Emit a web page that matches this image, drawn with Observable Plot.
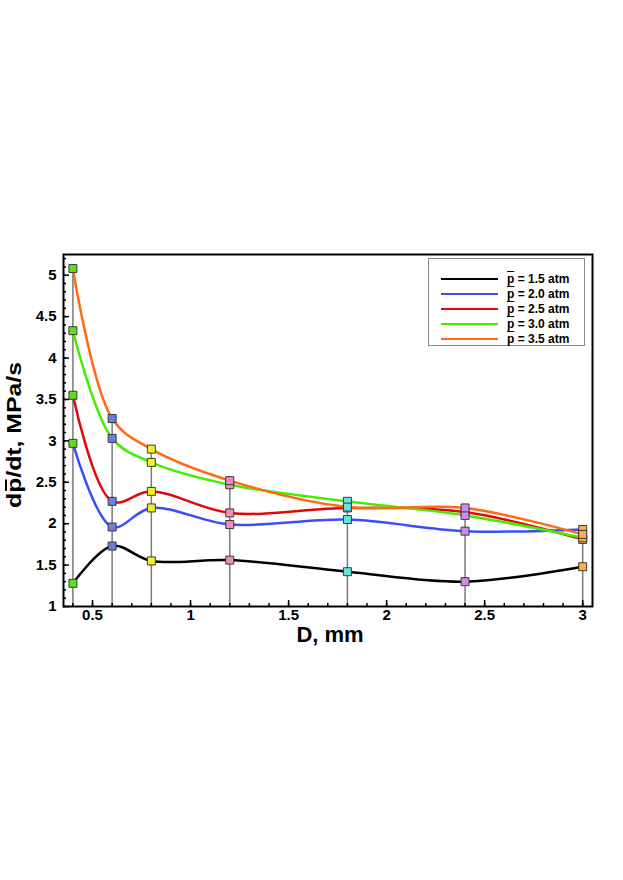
<!DOCTYPE html>
<html><head><meta charset="utf-8">
<script src="https://cdn.jsdelivr.net/npm/d3@7"></script>
<script src="https://cdn.jsdelivr.net/npm/@observablehq/plot@0.6"></script>
<style>
body{margin:0;background:#fff;}
#wrap{position:relative;width:623px;height:880px;font-family:"Liberation Sans",Arial,sans-serif;}
#legend{position:absolute;left:428px;top:258px;width:157px;height:88px;border:1px solid #8a8a8a;background:#fff;box-sizing:border-box;}
.row{position:absolute;left:0;height:14px;display:flex;align-items:center;font-weight:bold;font-size:12px;color:#000;white-space:nowrap;}
.sw{width:57px;height:0;border-top:2.5px solid;margin-left:12px;margin-right:9px;}
.ov{text-decoration:overline;}
</style></head><body><div id="wrap"></div>
<script>
// Diameter, mm
const D = [0.4, 0.6, 0.8, 1.2, 1.8, 2.4, 3.0];
// dp/dt, MPa/s for each mean pressure
const p15 = [1.28, 1.73, 1.55, 1.56, 1.42, 1.30, 1.48];
const p20 = [2.97, 1.96, 2.19, 1.99, 2.05, 1.91, 1.93];
const p25 = [3.55, 2.27, 2.39, 2.13, 2.19, 2.14, 1.81];
const p30 = [4.33, 3.03, 2.74, 2.47, 2.27, 2.10, 1.83];
const p35 = [5.08, 3.27, 2.90, 2.52, 2.20, 2.19, 1.87];
const seriesLabels = ["1.5", "2.0", "2.5", "3.0", "3.5"];
const seriesColors = ["#000000", "#3a4cff", "#e00808", "#44ee00", "#ff6a14"];
const markerFills = ["#5ee022", "#6a7ede", "#f2f222", "#f28cbe", "#66e2dc", "#cc8cee", "#ffad48"];
const xMajor = [0.5, 1, 1.5, 2, 2.5, 3];
const xMinor = d3.range(4, 31).map(i => i / 10);
const yMajor = [1, 1.5, 2, 2.5, 3, 3.5, 4, 4.5, 5];
const yMinor = d3.range(10, 53).map(i => i / 10);

const series = [p15, p20, p25, p30, p35];
const maxAt = D.map((d, i) => d3.max(series, s => s[i]));

const marks = [];
marks.push(Plot.ruleX(D, {x: d => d, y1: 1, y2: (d, i) => maxAt[i], stroke: "#7a7a7a", strokeWidth: 1.5}));
series.forEach((s, k) => {
  marks.push(Plot.line(D, {x: d => d, y: (d, i) => s[i], stroke: seriesColors[k], strokeWidth: 2.5, curve: "catmull-rom"}));
});
D.forEach((d, j) => {
  marks.push(Plot.dot(series, {x: () => d, y: s => s[j], symbol: "square", r: 4.5, fill: markerFills[j], stroke: "#3a3a3a", strokeWidth: 1}));
});
marks.push(Plot.axisX(xMinor, {tickSize: -3, tickFormat: () => "", strokeWidth: 1.5, label: null}));
marks.push(Plot.axisX(xMajor, {tickSize: -6, tickPadding: 9, strokeWidth: 1.5, tickFormat: d => String(d), fontSize: 15, fontWeight: "bold", label: null}));
marks.push(Plot.axisY(yMinor, {tickSize: -3, tickFormat: () => "", strokeWidth: 1.5, label: null}));
marks.push(Plot.axisY(yMajor, {tickSize: -6, tickPadding: 13, strokeWidth: 1.5, tickFormat: d => String(d), fontSize: 15, fontWeight: "bold", label: null}));
marks.push(Plot.frame({stroke: "#000", strokeWidth: 2}));

const chart = Plot.plot({
  width: 623, height: 880,
  marginTop: 254, marginBottom: 274, marginLeft: 63, marginRight: 31,
  x: {domain: [0.352, 3.05]},
  y: {domain: [1, 5.25]},
  style: {fontFamily: "'Liberation Sans', Arial, sans-serif", background: "#fff", color: "#000"},
  marks
});

const wrap = document.getElementById("wrap");
wrap.appendChild(chart);

const svg = d3.select(chart);
const g = svg.append("g").attr("transform", "translate(21,435) rotate(-90) scale(1.18,1)");
const yl = g.append("text").attr("text-anchor", "middle")
  .style("font", "bold 21px 'Liberation Sans', Arial, sans-serif").attr("fill", "#000");
yl.append("tspan").text("d");
const pt = yl.append("tspan").text("p");
yl.append("tspan").text("/dt, MPa/s");
const bb = pt.node().getBBox();
g.append("line").attr("x1", bb.x + 1.5).attr("x2", bb.x + bb.width - 1.5)
  .attr("y1", -15).attr("y2", -15).attr("stroke", "#000").attr("stroke-width", 2);
svg.append("text").attr("x", 330).attr("y", 642).attr("text-anchor", "middle")
  .style("font", "bold 22px 'Liberation Sans', Arial, sans-serif").attr("fill", "#000").text("D, mm");

const legend = document.createElement("div");
legend.id = "legend";
seriesLabels.forEach((lab, k) => {
  const row = document.createElement("div");
  row.className = "row";
  row.style.top = (12.5 + 15 * k) + "px";
  row.innerHTML = `<span class="sw" style="border-color:${seriesColors[k]}"></span><span><span class="ov">p</span> = ${lab} atm</span>`;
  legend.appendChild(row);
});
wrap.appendChild(legend);
</script></body></html>
